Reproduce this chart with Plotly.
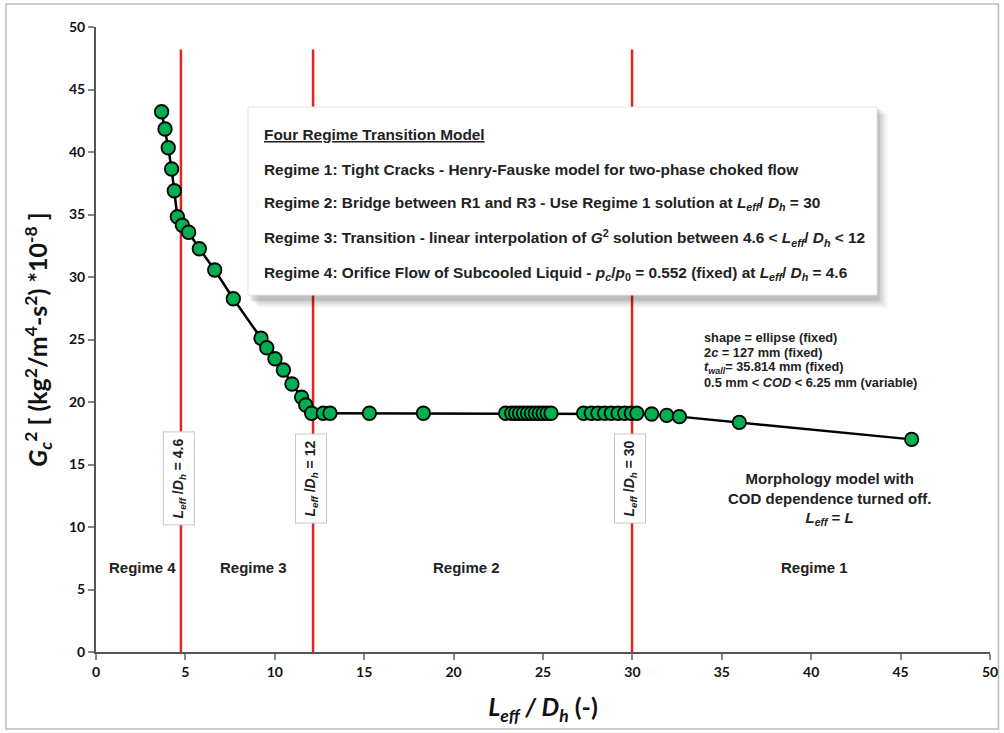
import plotly.graph_objects as go

# Data
x_vals = [3.67, 3.86, 4.04, 4.23, 4.38, 4.55, 4.83, 5.18, 5.78, 6.64, 7.68,
          9.23, 9.55, 10.01, 10.48, 10.96, 11.50, 11.73, 12.06, 12.71, 13.09,
          15.29, 18.31,
          22.91, 23.25, 23.47, 23.69, 23.91, 24.13, 24.35, 24.57, 24.79, 25.01, 25.23, 25.45,
          27.27, 27.70, 28.07, 28.45, 28.82, 29.20, 29.57, 29.94, 30.25,
          31.08, 31.92, 32.63, 35.98, 45.62]
y_vals = [43.22, 41.84, 40.34, 38.64, 36.90, 34.82, 34.14, 33.58, 32.26, 30.56, 28.26,
          25.10, 24.34, 23.46, 22.56, 21.44, 20.38, 19.76, 19.10, 19.10, 19.10,
          19.10, 19.10,
          19.10, 19.10, 19.10, 19.10, 19.10, 19.10, 19.10, 19.10, 19.10, 19.10, 19.10, 19.10,
          19.10, 19.10, 19.10, 19.10, 19.10, 19.10, 19.10, 19.10, 19.10,
          19.04, 18.93, 18.83, 18.37, 17.01]

regime_bounds = [4.75, 12.14, 29.98]
bound_labels = ["4.6", "12", "30"]
regime_names = ["Regime 4", "Regime 3", "Regime 2", "Regime 1"]
regime_label_x = [2.6, 8.8, 20.7, 40.2]

x_ticks = [0, 5, 10, 15, 20, 25, 30, 35, 40, 45, 50]
y_ticks = [0, 5, 10, 15, 20, 25, 30, 35, 40, 45, 50]

fig = go.Figure()

RED = "#E3241F"
shapes = []
# outer figure frame
shapes.append(dict(type="rect", xref="paper", yref="paper", x0=-0.1007, x1=1.0095,
                   y0=-0.1232, y1=1.0368, line=dict(color="#BBBBBB", width=1.5),
                   fillcolor="rgba(0,0,0,0)", layer="below"))
# shadow of the text box
for i, a in enumerate([0.10, 0.08, 0.06, 0.04]):
    d = 0.15 * (i + 1)
    shapes.append(dict(type="rect", xref="x", yref="y", x0=8.5 + d, x1=43.68 + d,
                       y0=28.56 - 1.2 * d - 0.3, y1=43.6 - d, line=dict(width=0),
                       fillcolor=f"rgba(0,0,0,{a})", layer="above"))
shapes.append(dict(type="rect", xref="x", yref="y", x0=8.5, x1=43.68, y0=28.56, y1=43.6,
                   line=dict(color="#E6E6E6", width=1), fillcolor="white", layer="above"))
for xb in regime_bounds:
    shapes.insert(1, dict(type="line", xref="x", yref="y", x0=xb, x1=xb, y0=0, y1=48.2,
                          line=dict(color=RED, width=2.5), layer="below"))
fig.update_layout(shapes=shapes)

fig.add_trace(go.Scatter(
    x=x_vals, y=y_vals, mode="lines+markers",
    line=dict(color="black", width=2.5),
    marker=dict(size=13.5, color="#00B050", line=dict(color="black", width=1.8)),
    showlegend=False, hoverinfo="skip"))

ann = []
BOX_FONT = dict(family="Liberation Sans Narrow, Arial Narrow, Liberation Sans, Arial", size=15.4, color="#222222")
box_lines = [
    "<b><u>Four Regime Transition Model</u></b>",
    "<b>Regime 1: Tight Cracks - Henry-Fauske model for two-phase choked flow</b>",
    "<b>Regime 2: Bridge between R1 and R3 - Use Regime 1 solution at <i>L<sub>eff</sub></i>/ <i>D<sub>h</sub></i> = 30</b>",
    "<b>Regime 3: Transition - linear interpolation of <i>G</i><sup>2</sup> solution between 4.6 &lt; <i>L<sub>eff</sub></i>/ <i>D<sub>h</sub></i> &lt; 12</b>",
    "<b>Regime 4: Orifice Flow of Subcooled Liquid - <i>p<sub>c</sub></i>/<i>p</i><sub>0</sub> = 0.552 (fixed) at <i>L<sub>eff</sub></i>/ <i>D<sub>h</sub></i> = 4.6</b>",
]
box_y = [41.44, 38.64, 35.92, 33.12, 30.32]
for t, yy in zip(box_lines, box_y):
    ann.append(dict(x=9.28, y=yy, xref="x", yref="y", text=t, showarrow=False,
                    xanchor="left", yanchor="middle", font=BOX_FONT))

info_lines = ["<b>shape = ellipse (fixed)</b>",
              "<b>2<i>c</i> = 127 mm (fixed)</b>",
              "<b><i>t<sub>wall</sub></i>= 35.814 mm (fixed)</b>",
              "<b>0.5 mm &lt; <i>COD</i> &lt; 6.25 mm (variable)</b>"]
info_y = [25.2, 24.0, 22.8, 21.6]
for t, yy in zip(info_lines, info_y):
    ann.append(dict(x=33.9, y=yy, xref="x", yref="y", text=t, showarrow=False,
                    xanchor="left", yanchor="middle", align="left",
                    font=dict(family="Liberation Sans, Arial", size=12.8, color="#222222")))

morph = ("<b>Morphology model with<br>COD dependence turned off.<br>"
         "<i>L<sub>eff</sub></i> = <i>L</i></b>")
ann.append(dict(x=41.05, y=14.7, xref="x", yref="y", text=morph, showarrow=False,
                xanchor="center", yanchor="top", align="center",
                font=dict(family="Liberation Sans, Arial", size=15, color="#222222")))

for name, xx in zip(regime_names, regime_label_x):
    ann.append(dict(x=xx, y=6.8, xref="x", yref="y", text=f"<b>{name}</b>", showarrow=False,
                    xanchor="center", yanchor="middle",
                    font=dict(family="Liberation Sans, Arial", size=15, color="#222222")))

for xb, lab in zip(regime_bounds, bound_labels):
    ann.append(dict(x=xb - 0.1, y=13.9, xref="x", yref="y",
                    text=f"<b><i>L<sub>eff</sub></i> /<i>D<sub>h</sub></i> = {lab}</b>",
                    showarrow=False, textangle=-90, xanchor="center", yanchor="middle",
                    bgcolor="white", bordercolor="#C8C8C8", borderwidth=1, borderpad=6,
                    font=dict(family="Liberation Sans, Arial", size=14, color="#222222")))

fig.update_layout(annotations=ann)

AXIS_FONT = dict(family="Lato, Open Sans, sans-serif", size=14, color="#111111")
fig.update_xaxes(range=[0, 50], tickvals=x_ticks, ticktext=[f"<b>{v}</b>" for v in x_ticks],
                 showgrid=False, zeroline=False, showline=True, linecolor="#555555", linewidth=2,
                 ticks="outside", tickcolor="#888888", ticklen=6, tickwidth=1.5,
                 tickfont=AXIS_FONT, automargin=False,
                 title=dict(text="<b><i>L<sub>eff</sub> / D<sub>h</sub></i> (-)</b>",
                            font=dict(family="Lato, Open Sans, sans-serif", size=25, color="#111111"),
                            standoff=20))
fig.update_yaxes(range=[0, 50], tickvals=y_ticks, ticktext=[f"<b>{v}</b>" for v in y_ticks],
                 showgrid=False, zeroline=False, showline=True, linecolor="#555555", linewidth=2,
                 ticks="outside", tickcolor="#888888", ticklen=6, tickwidth=1.5,
                 tickfont=AXIS_FONT, automargin=False,
                 title=dict(text="<b><i>G<sub>c</sub></i><sup>2</sup> [ (kg<sup>2</sup>/m<sup>4</sup>-s<sup>2</sup>) *10<sup>-8</sup> ]</b>",
                            font=dict(family="Lato, Open Sans, sans-serif", size=25, color="#111111"),
                            standoff=14))

fig.update_layout(width=1004, height=733, margin=dict(l=96, r=14, t=27, b=81),
                  plot_bgcolor="white", paper_bgcolor="white")

fig.write_html("out.html")
